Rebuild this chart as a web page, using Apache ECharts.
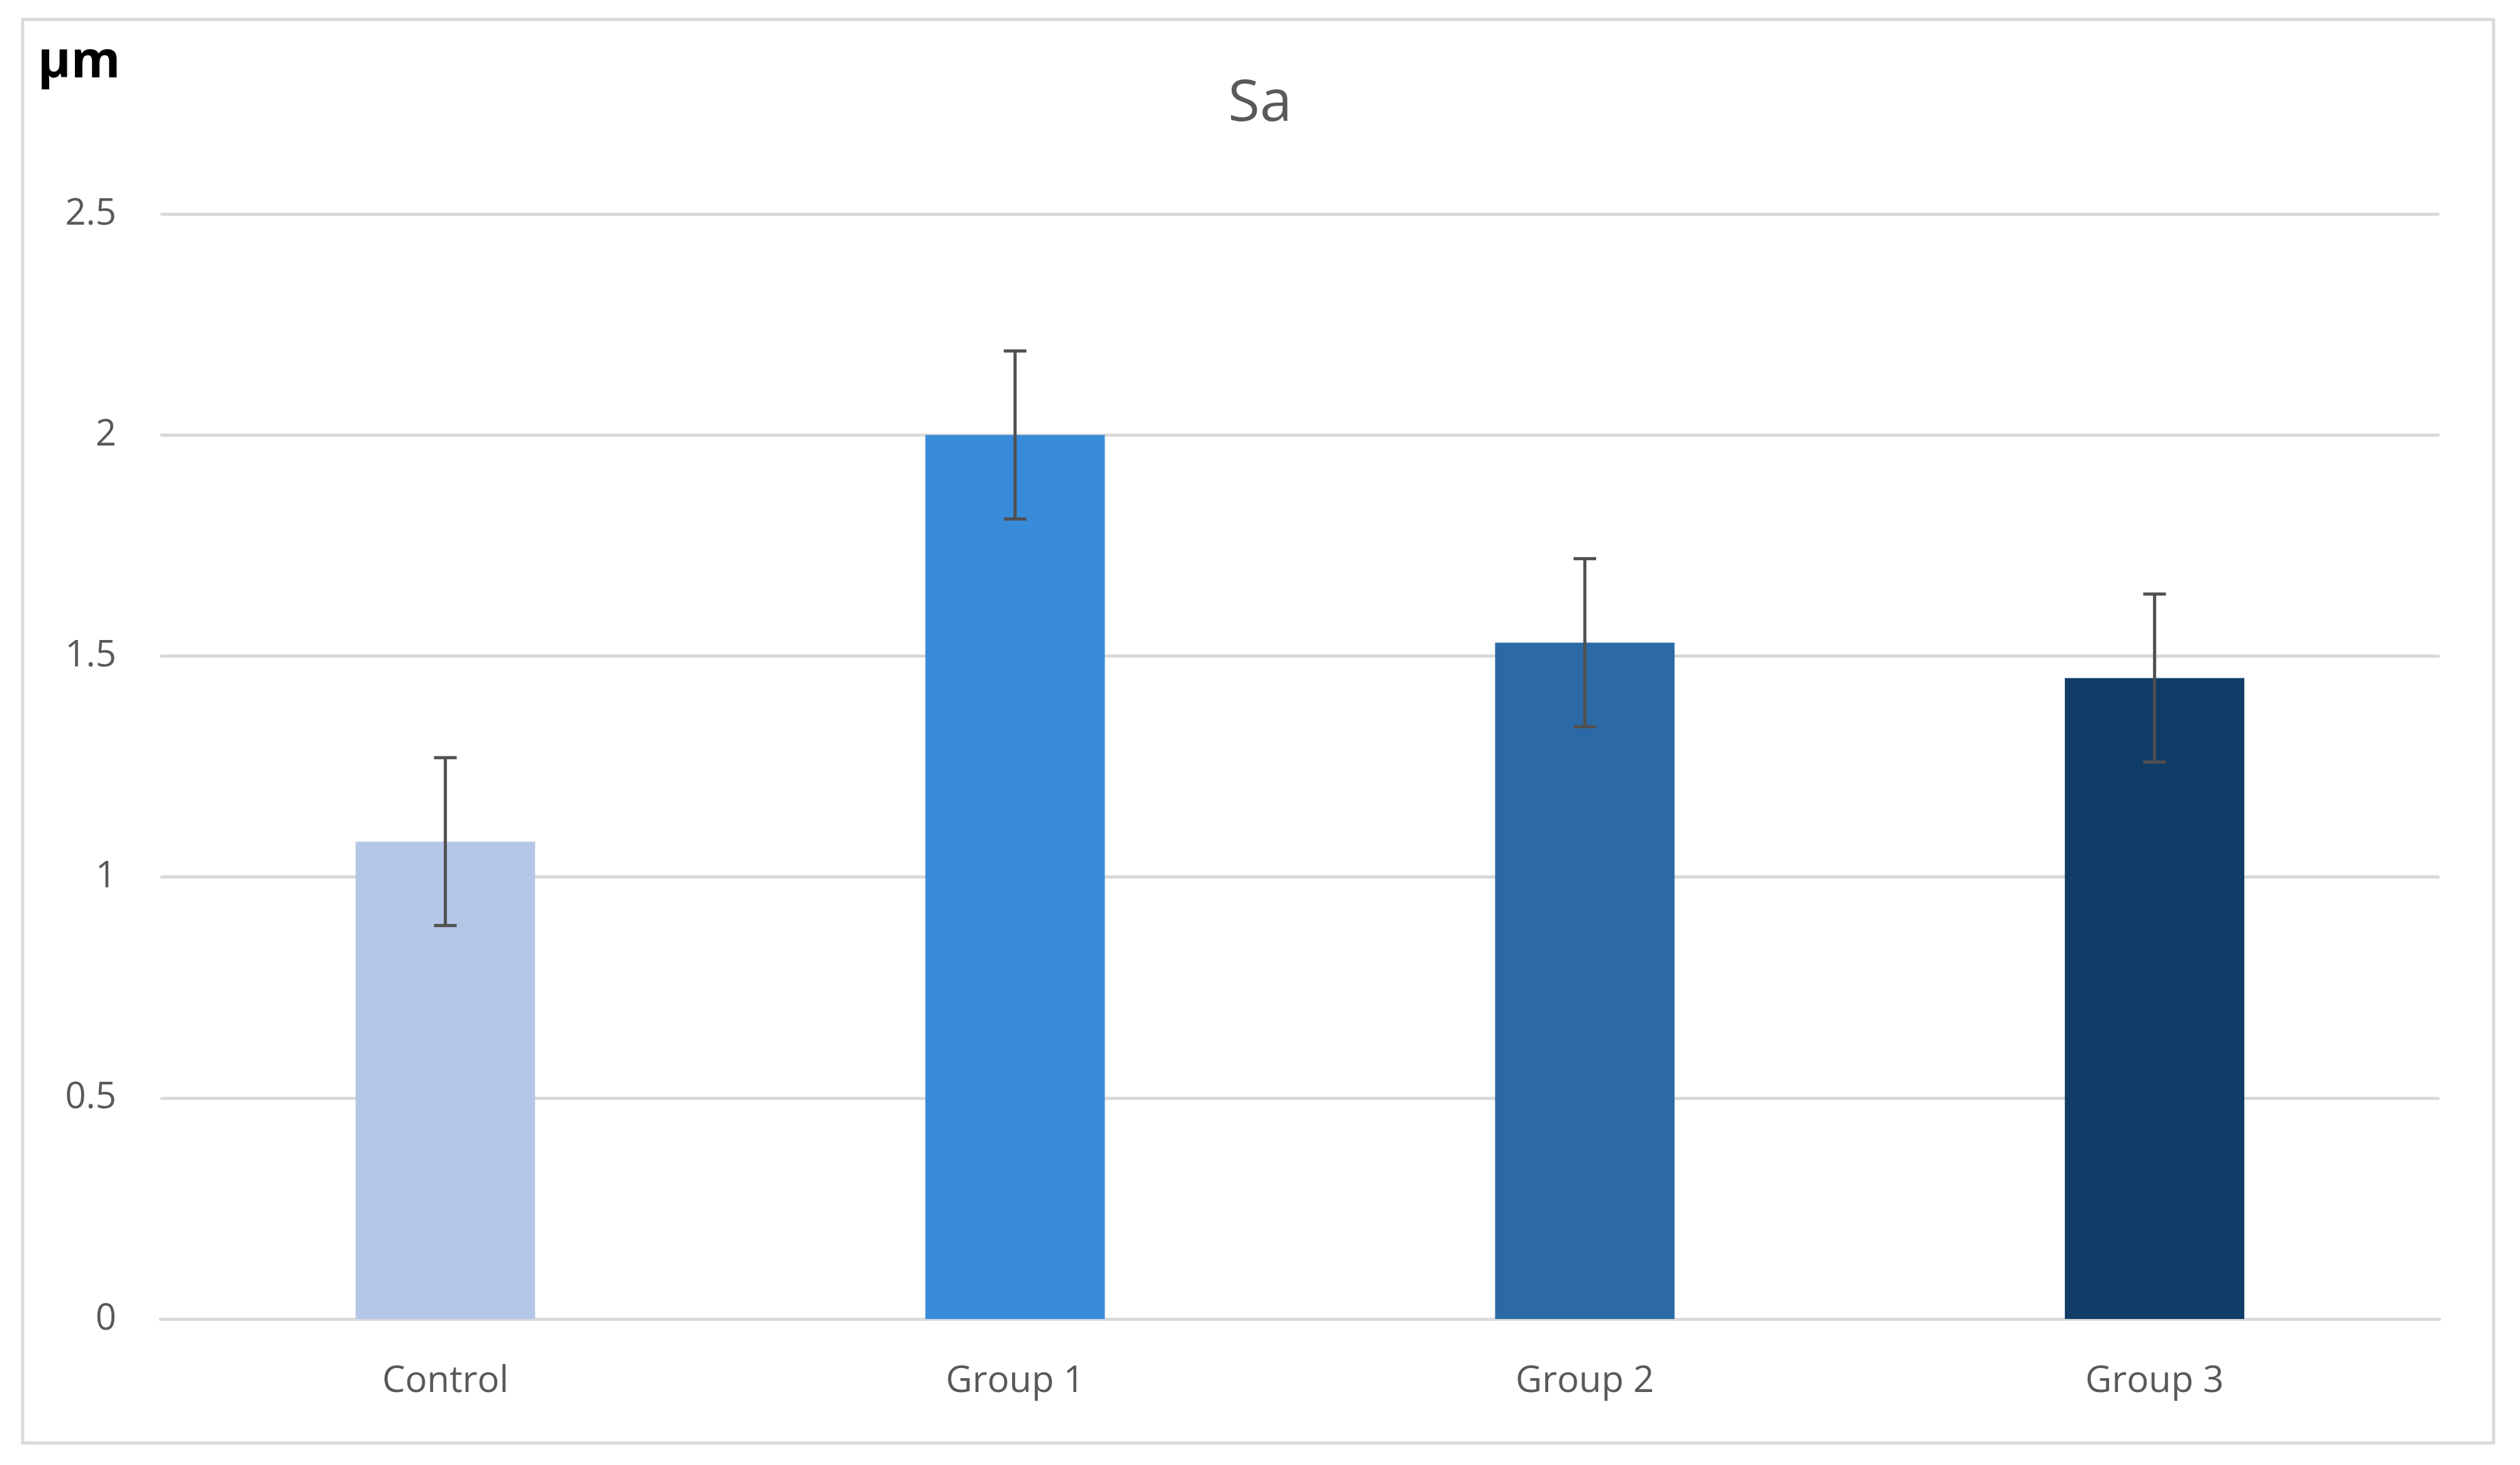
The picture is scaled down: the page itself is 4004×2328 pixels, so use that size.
<!DOCTYPE html>
<html>
<head>
<meta charset="utf-8">
<script src="https://cdn.jsdelivr.net/npm/echarts@6/dist/echarts.min.js"></script>
<style>html,body{margin:0;background:#fff}#chart{width:4004px;height:2328px}</style>
</head>
<body>
<div id="chart"></div>
<script>
const categories = ["Control", "Group 1", "Group 2", "Group 3"];
const means = [1.08, 2.0, 1.53, 1.45];
const errors = [0.19, 0.19, 0.19, 0.19];
const barColors = ["#B4C7E7", "#388BD9", "#2B6AA6", "#103D68"];

const chart = echarts.init(document.getElementById("chart"));
const font = "Open Sans";

chart.setOption({
    animation: false,
    graphic: [
        {type: "rect", shape: {x: 36, y: 31, width: 3926, height: 2262},
         style: {fill: "none", stroke: "#d9d9d9", lineWidth: 5}},
        {type: "text", left: 60, top: 60,
         style: {text: "µm", font: "bold 80px " + font, fill: "#000"}}
    ],
    title: {
        text: "Sa", left: "center", top: 115,
        textStyle: {fontFamily: font, fontSize: 92, fontWeight: "normal", color: "#595959"}
    },
    grid: {left: 255, right: 128, top: 340, bottom: 232},
    xAxis: {
        type: "category",
        data: categories,
        axisTick: {show: false},
        axisLine: {lineStyle: {color: "#d9d9d9", width: 5}},
        axisLabel: {fontFamily: font, fontSize: 58, color: "#595959", margin: 70}
    },
    yAxis: {
        type: "value", min: 0, max: 2.5, interval: 0.5,
        axisLine: {show: false},
        axisLabel: {fontFamily: font, fontSize: 58, color: "#595959", margin: 70},
        splitLine: {lineStyle: {color: "#d9d9d9", width: 5}}
    },
    series: [
        {
            type: "bar",
            barWidth: "31.5%",
            data: means.map((v, i) => ({value: v, itemStyle: {color: barColors[i]}}))
        },
        {
            type: "custom",
            z: 10,
            data: means.map((v, i) => [i, v - errors[i], v + errors[i]]),
            renderItem: function (params, api) {
                const lo = api.coord([api.value(0), api.value(1)]);
                const hi = api.coord([api.value(0), api.value(2)]);
                const w = 18;
                const style = {stroke: "#505050", lineWidth: 5};
                return {
                    type: "group",
                    children: [
                        {type: "line", shape: {x1: lo[0], y1: lo[1], x2: hi[0], y2: hi[1]}, style},
                        {type: "line", shape: {x1: lo[0] - w, y1: lo[1], x2: lo[0] + w, y2: lo[1]}, style},
                        {type: "line", shape: {x1: hi[0] - w, y1: hi[1], x2: hi[0] + w, y2: hi[1]}, style}
                    ]
                };
            }
        }
    ]
});
</script>
</body>
</html>
